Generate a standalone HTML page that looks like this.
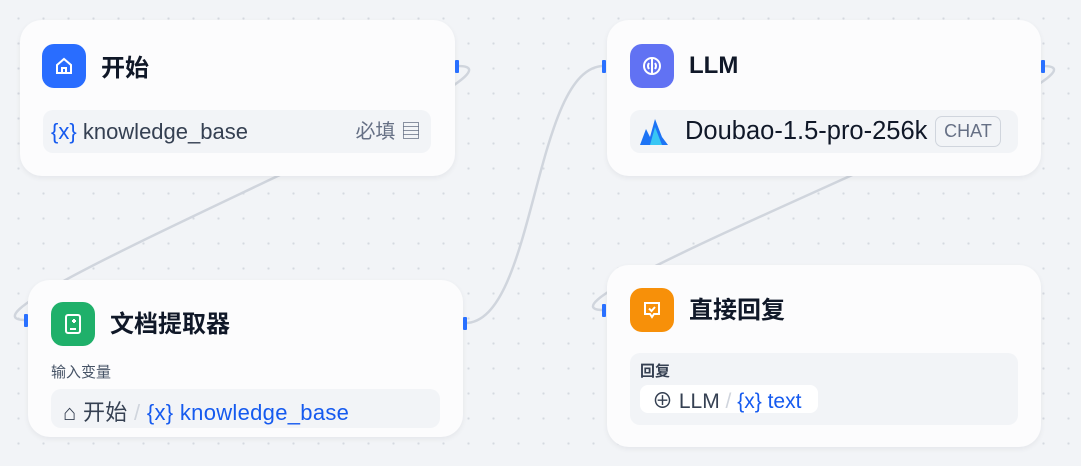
<!DOCTYPE html>
<html><head><meta charset="utf-8"><style>
*{box-sizing:border-box;margin:0;padding:0}
body{width:1081px;height:466px;overflow:hidden;position:relative;background-color:#f2f4f7;background-image:radial-gradient(circle,#d5d9e0 1px,transparent 1.3px);background-size:25px 25px;background-position:6px 6px;font-family:"Liberation Sans","Noto Sans CJK SC",sans-serif}
svg.e{position:absolute;left:0;top:0}
.n{position:absolute;background:#fcfcfd;border-radius:22px;box-shadow:0 2px 6px rgba(16,24,40,.06)}
.ic{position:absolute;width:44px;height:44px;border-radius:12px;display:flex;align-items:center;justify-content:center}
.t{position:absolute;font-size:24px;font-weight:bold;color:#101828}
.row{position:absolute;background:#f2f4f7;border-radius:10px}
.h{position:absolute;width:4px;height:13px;background:#2970ff;border-radius:1px}
.x{color:#155aef}
</style></head><body>
<svg class="e" width="1081" height="466">
<g fill="none" stroke="#d0d5dd" stroke-width="2.5">
<path d="M458,66 C560,66 -76,320 26,320"/>
<path d="M465,323 C536,323 533,66 604,66"/>
<path d="M1043,66 C1145,66 502,310 604,310"/>
</g></svg>

<div class="n" style="left:20px;top:20px;width:435px;height:156px">
<div class="ic" style="left:22px;top:24px;background:#296dff"><svg width="20" height="20" viewBox="0 0 20 20" fill="none" stroke="#fff" stroke-width="2"><path d="M3 9 L10 3 L17 9 V17 H3 Z"/><path d="M8 17 V12 H12 V17"/></svg></div>
<div class="t" style="left:81px;top:28px">开始</div>
<div class="row" style="left:23px;top:90px;width:388px;height:43px">
<span style="position:absolute;left:8px;top:9px;font-size:22px"><span class="x">{x}</span> <span style="color:#354052">knowledge_base</span></span>
<span style="position:absolute;right:10px;top:5px;font-size:20px;color:#667085">必填 ▤</span></div>
</div>
<div class="h" style="left:455px;top:60px"></div>

<div class="n" style="left:28px;top:280px;width:435px;height:157px">
<div class="ic" style="left:23px;top:22px;background:#1fb06a"><svg width="20" height="22" viewBox="0 0 20 22" fill="none" stroke="#fff" stroke-width="2"><rect x="3" y="2" width="14" height="18" rx="2"/><path d="M7 16 H13 M11 6 V10 M9 8 H13"/></svg></div>
<div class="t" style="left:82px;top:24px">文档提取器</div>
<div style="position:absolute;left:23px;top:81px;font-size:15px;color:#475467">输入变量</div>
<div class="row" style="left:23px;top:109px;width:389px;height:39px">
<span style="position:absolute;left:12px;top:6px;font-size:22px;color:#354052;letter-spacing:0.3px">⌂ 开始 <span style="color:#d0d5dd">/</span> <span style="color:#155aef">{x} knowledge_base</span></span></div>
</div>
<div class="h" style="left:24px;top:314px"></div>
<div class="h" style="left:463px;top:317px"></div>

<div class="n" style="left:607px;top:20px;width:434px;height:156px">
<div class="ic" style="left:23px;top:24px;background:#6172f3"><svg width="22" height="22" viewBox="0 0 22 22" fill="none" stroke="#fff" stroke-width="2"><circle cx="11" cy="11" r="8"/><path d="M11 3 V19 M8 8 Q6 11 8 14 M14 8 Q16 11 14 14"/></svg></div>
<div class="t" style="left:82px;top:32px">LLM</div>
<div class="row" style="left:23px;top:90px;width:388px;height:43px">
<svg style="position:absolute;left:10px;top:9px" width="28" height="26" viewBox="0 0 28 26"><path d="M0 26 L6 10 L10 18 L15 0 L22 18 L28 26 Z" fill="#1d74f5"/><path d="M10 26 L15 8 L22 26 Z" fill="#38c6f4"/></svg>
<span style="position:absolute;left:55px;top:7px;font-size:25.5px;color:#101828">Doubao-1.5-pro-256k</span>
<span style="position:absolute;left:305px;top:6px;width:66px;height:31px;border:1.5px solid #d0d5dd;border-radius:7px;font-size:18px;color:#667085;text-align:center;line-height:28px">CHAT</span></div>
</div>
<div class="h" style="left:602px;top:60px"></div>
<div class="h" style="left:1041px;top:60px"></div>

<div class="n" style="left:607px;top:265px;width:434px;height:182px">
<div class="ic" style="left:23px;top:23px;background:#f79009"><svg width="20" height="20" viewBox="0 0 20 20" fill="none" stroke="#fff" stroke-width="2"><path d="M3 3 H17 V14 H12 L10 17 L8 14 H3 Z"/><path d="M7 8.5 L9.5 11 L13 7"/></svg></div>
<div class="t" style="left:82px;top:25px">直接回复</div>
<div class="row" style="left:23px;top:88px;width:388px;height:72px">
<div style="position:absolute;left:10px;top:7px;font-size:15px;font-weight:bold;color:#354052">回复</div>
<div style="position:absolute;left:10px;top:32px;width:178px;height:28px;background:#fff;border-radius:8px;font-size:21px;color:#354052;padding:0 0 0 12px">⊕ LLM <span style="color:#d0d5dd">/</span> <span style="color:#155aef">{x} text</span></div>
</div>
</div>
<div class="h" style="left:602px;top:304px"></div>
</body></html>
